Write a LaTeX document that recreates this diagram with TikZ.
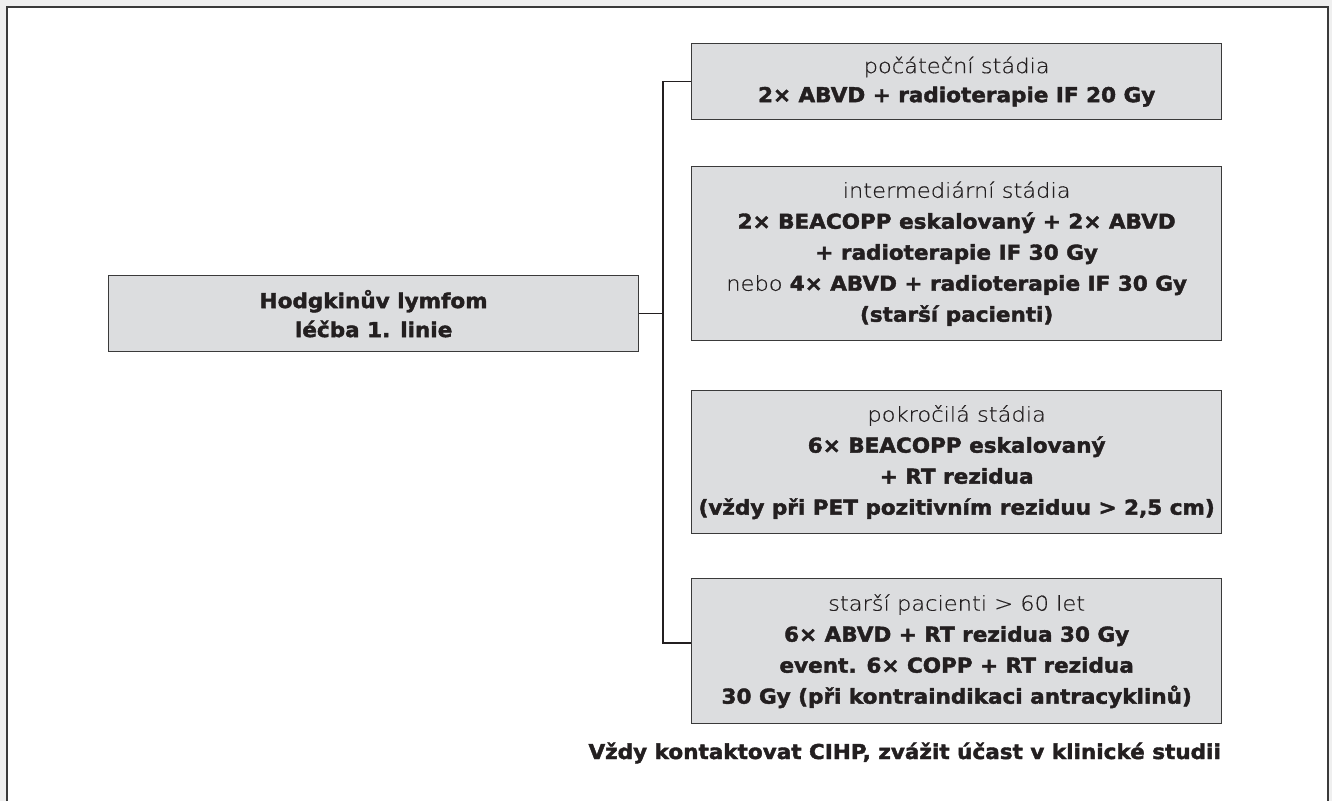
\documentclass[tikz,border=0pt]{standalone}
\usepackage{fontspec}
\setmainfont{DejaVu Sans}
\newfontfamily\hbold{DejaVu Sans Bold}[FakeStretch=1.05, FakeBold=2]
\newfontfamily\hlight{DejaVu Sans ExtraLight}[FakeStretch=1.1, FakeBold=0.5]
\newcommand{\B}[1]{{\hbold #1}}
\definecolor{boxgrey}{HTML}{DCDDDF}
\definecolor{boxline}{HTML}{3A3A3A}
\definecolor{ink}{HTML}{231F20}
\definecolor{pagegrey}{HTML}{EFEFEF}

\begin{document}
\begin{tikzpicture}[x=1pt, y=-1pt,
  box/.style={draw=boxline, line width=1.3pt, fill=boxgrey, minimum width=530pt,
    inner sep=0pt, align=center, anchor=north west, text=ink,
    font=\fontsize{20.5}{29}\hlight},
  tallbox/.style={box, font=\fontsize{20.5}{31}\hlight},
  conn/.style={draw=ink, line width=1.4pt}]

  \useasboundingbox (0,0) rectangle (1332,801);

  %% frame
  \fill[pagegrey] (0,0) rectangle (1332,801);
  \fill[white] (7,7) rectangle (1328,801);
  \draw[boxline, line width=2.6pt] (7,801) -- (7,7) -- (1328,7) -- (1328,801);

  %% main box
  \node[box, minimum height=76pt] (hl) at (108,275)
    {\B{Hodgkinův lymfom}\\ \B{léčba 1. linie}};

  %% stages
  \node[box, minimum height=76pt] (early) at (691,43)
    {počáteční stádia\\ \B{2× ABVD + radioterapie IF 20 Gy}};
  \node[tallbox, minimum height=174pt] (inter) at (691,166)
    {intermediární stádia\\ \B{2× BEACOPP eskalovaný + 2× ABVD}\\
     \B{+ radioterapie IF 30 Gy}\\ nebo \B{4× ABVD + radioterapie IF 30 Gy}\\
     \B{(starší pacienti)}};
  \node[tallbox, minimum height=143pt] (adv) at (691,390)
    {pokročilá stádia\\ \B{6× BEACOPP eskalovaný}\\ \B{+ RT rezidua}\\
     \B{(vždy při PET pozitivním reziduu > 2,5 cm)}};
  \node[tallbox, minimum height=145pt] (old) at (691,578)
    {starší pacienti > 60 let\\ \B{6× ABVD + RT rezidua 30 Gy}\\
     \B{event. 6× COPP + RT rezidua}\\ \B{30 Gy (při kontraindikaci antracyklinů)}};

  \node[anchor=east, inner sep=0pt, text=ink, font=\fontsize{20.5}{29}\hbold] (note)
    at (1221,753) {Vždy kontaktovat CIHP, zvážit účast v klinické studii};

  %% connectors
  \coordinate (trunk) at (663,313);
  \draw[conn] (early.west) -- (early.west -| trunk)
    |- ([yshift=8pt]old.west); % trunk
  \draw[conn] (hl.east) -- (hl.east -| trunk); % main -> trunk

\end{tikzpicture}
\end{document}
